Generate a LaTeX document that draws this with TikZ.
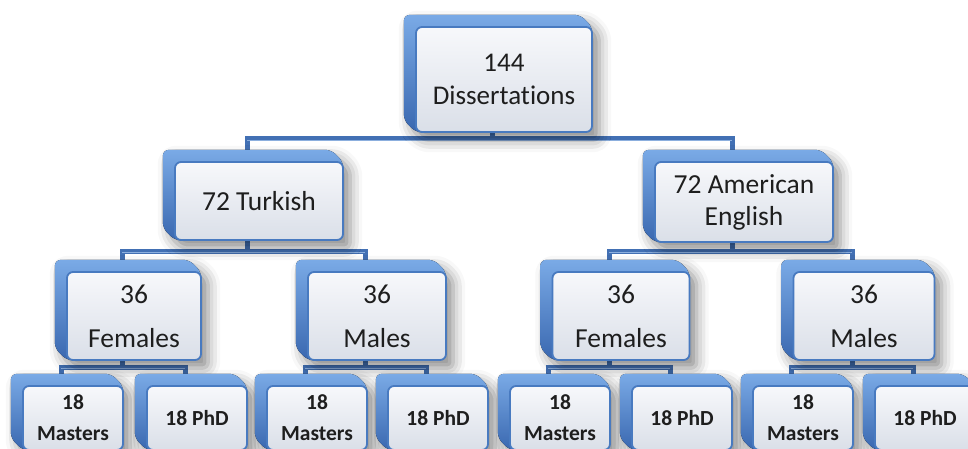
\documentclass[tikz,border=0pt]{standalone}
\usepackage{fontspec}
\setmainfont{Carlito}[Ligatures={NoCommon}]
\usetikzlibrary{backgrounds,shadows.blur,calc}
\definecolor{bluedark}{RGB}{58,104,176}
\definecolor{bluelight}{RGB}{122,170,230}
\definecolor{bordblue}{RGB}{72,122,192}
\definecolor{frontTop}{RGB}{247,248,251}
\definecolor{frontBot}{RGB}{218,223,232}
\definecolor{txt}{RGB}{30,30,30}
\definecolor{connA}{RGB}{66,112,180}
\definecolor{connB}{RGB}{140,175,222}
\tikzset{
  backbox/.style={draw=none, inner sep=0pt, rounded corners=6pt},
  frontbox/.style={draw=bordblue, line width=1.8pt, rounded corners=6pt,
     top color=frontTop, bottom color=frontBot, inner sep=0pt, align=center,
     text=txt},
  hullfill/.style={rounded corners=6pt, top color=bluelight, bottom color=bluedark,
     blur shadow={shadow xshift=7pt, shadow yshift=-8pt, shadow blur radius=12pt, shadow opacity=45}},
  conn/.style={draw=connA, line width=5pt, line cap=rect},
  connhi/.style={draw=connB, line width=1pt},
  big/.style={font=\fontsize{27}{33}\selectfont},
  mid/.style={font=\fontsize{27.5}{32}\selectfont},
  wide/.style={font=\fontsize{27.5}{44}\selectfont},
  small/.style={font=\bfseries\fontsize{21.5}{31}\selectfont},
}
% #1 name, #2 cx, #3 cy, #4 width, #5 height, #6 style, #7 text
\newcommand\tribox[7]{%
  \node[backbox, minimum width=#4pt, minimum height=#5pt] (#1b) at (#2-12,#3-12) {};
  \fill[hullfill] (#1b.north west) -- (#1b.north east) -- ($(#1b.north east)+(12,12)$)
     -- ($(#1b.south east)+(12,12)$) -- ($(#1b.south west)+(12,12)$) -- (#1b.south west) -- cycle;
  \node[frontbox, #6, minimum width=#4pt, minimum height=#5pt] (#1) at (#2,#3) {#7};
}
\begin{document}
\begin{tikzpicture}[x=1pt,y=-1pt]
\useasboundingbox (0,0) rectangle (968,449);
\clip (0,0) rectangle (968,449);
% level 1
\tribox{r}{504}{79.5}{176}{105}{big}{144\\Dissertations}
% level 2
\tribox{t}{259}{201}{168}{78}{mid}{72 Turkish}
\tribox{a}{744}{202}{178}{80}{mid}{72 American\\English}
% level 3
\tribox{tf}{134}{316}{134}{88}{wide}{36\\Females}
\tribox{tm}{377}{316}{138}{88}{wide}{36\\Males}
\tribox{af}{621}{316}{137}{88}{wide}{36\\Females}
\tribox{am}{864}{316}{141}{88}{wide}{36\\Males}
% level 4
\tribox{tfm}{73}{418}{100}{64}{small}{18\\Masters}
\tribox{tfp}{197}{418}{100}{64}{small}{18 PhD}
\tribox{tmm}{317}{418}{100}{64}{small}{18\\Masters}
\tribox{tmp}{438}{418}{100}{64}{small}{18 PhD}
\tribox{afm}{560}{418}{100}{64}{small}{18\\Masters}
\tribox{afp}{682}{418}{100}{64}{small}{18 PhD}
\tribox{amm}{803}{418}{100}{64}{small}{18\\Masters}
\tribox{amp}{925}{418}{100}{64}{small}{18 PhD}
% junction coordinates
\coordinate (j1) at (0,139);
\coordinate (j2) at (0,251);
\coordinate (j3) at (0,367);
\begin{scope}[on background layer]
  \foreach \p/\x/\y/\jj in {rb/tb/ab/j1, tb/tfb/tmb/j2, ab/afb/amb/j2,
      tfb/tfmb/tfpb/j3, tmb/tmmb/tmpb/j3, afb/afmb/afpb/j3, amb/ammb/ampb/j3}{
    \draw[conn] (\p.south) -- (\p.south |- \jj);
    \draw[conn] (\x.north) -- (\x.north |- \jj) -- (\y.north |- \jj) -- (\y.north);
    \draw[connhi] ([yshift=-1.5pt]\x.north |- \jj) -- ([yshift=-1.5pt]\y.north |- \jj);
  }
\end{scope}
\end{tikzpicture}
\end{document}
